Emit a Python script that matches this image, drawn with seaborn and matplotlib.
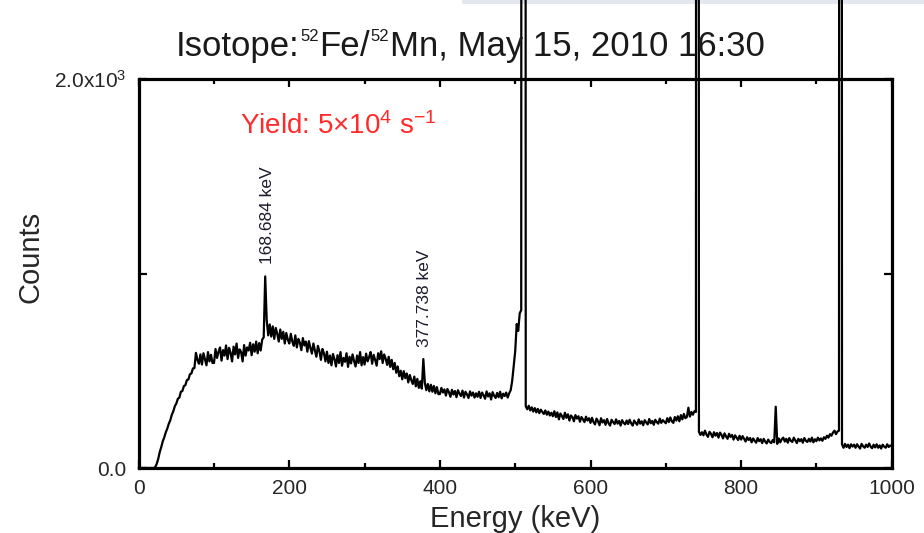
import numpy as np
import pandas as pd
import matplotlib
matplotlib.use("Agg")
import matplotlib.pyplot as plt
import seaborn as sns
from matplotlib.ticker import FixedLocator, MultipleLocator
from matplotlib.patches import Rectangle

# ---- spectrum: counts per 2 keV bin, 0 .. 1000 keV ----
bin_width_kev = 2
counts = [
    0, 0, 0, 0, 0, 0, 0, 0, 0, 0, 0, 5, 22, 48, 83, 108, 138, 158, 184, 203, 228, 246, 274, 292, 318,
    332, 356, 362, 392, 396, 421, 426, 452, 455, 482, 486, 512, 514, 592, 556, 536, 584, 532, 590, 560, 528, 596, 548, 582, 540,
    540, 612, 566, 598, 620, 552, 606, 578, 630, 560, 618, 592, 548, 624, 584, 640, 566, 610, 596, 548, 632, 578, 620, 604, 644,
    580, 636, 598, 650, 590, 642, 604, 660, 672, 985, 760, 682, 738, 676, 728, 664, 720, 690, 650, 712, 664, 700, 640, 694, 660,
    640, 690, 650, 628, 682, 620, 664, 645, 606, 668, 630, 650, 598, 652, 618, 588, 640, 604, 572, 628, 600, 556, 612, 590, 548,
    598, 540, 578, 528, 586, 560, 522, 580, 540, 596, 526, 566, 546, 590, 520, 572, 538, 584, 550, 522, 578, 540, 596, 528, 570,
    532, 588, 548, 570, 596, 536, 582, 556, 526, 590, 560, 600, 540, 584, 562, 530, 572, 520, 556, 508, 540, 490, 522, 472, 500,
    456, 498, 462, 486, 440, 478, 452, 432, 470, 420, 458, 412, 446, 408, 560, 438, 400, 432, 394, 428, 392, 422, 384, 416, 380,
    380, 412, 388, 404, 372, 406, 390, 366, 402, 378, 396, 364, 400, 382, 370, 398, 362, 392, 378, 360, 394, 372, 388, 362, 384,
    366, 392, 360, 388, 374, 356, 394, 368, 384, 352, 390, 372, 360, 386, 364, 392, 358, 382, 370, 388, 362, 384, 400, 448, 522,
    600, 740, 705, 795, 812, 30000, 30000, 318, 302, 320, 296, 312, 290, 308, 286, 304, 282, 300, 288, 278, 296, 274, 290, 270, 284,
    266, 292, 262, 286, 250, 280, 268, 252, 284, 258, 276, 244, 270, 262, 240, 272, 254, 266, 238, 262, 250, 236, 264, 244, 256,
    232, 258, 236, 224, 254, 240, 220, 256, 234, 246, 222, 252, 230, 218, 248, 236, 226, 250, 228, 242, 218, 246, 232, 224, 244,
    226, 248, 230, 218, 244, 232, 222, 250, 228, 240, 220, 246, 234, 224, 252, 230, 242, 222, 248, 236, 228, 254, 232, 246, 238,
    230, 256, 236, 260, 240, 232, 262, 244, 266, 240, 272, 250, 278, 256, 262, 310, 264, 288, 274, 292, 288, 30000, 186, 170, 184,
    168, 192, 172, 160, 186, 176, 158, 184, 166, 180, 156, 182, 170, 152, 178, 162, 150, 176, 160, 170, 146, 168, 156, 144, 166,
    146, 164, 150, 136, 158, 144, 154, 132, 152, 140, 130, 154, 138, 148, 128, 150, 136, 126, 146, 134, 128, 144, 132, 315, 124,
    152, 132, 148, 156, 136, 150, 130, 154, 140, 134, 156, 142, 128, 150, 138, 148, 130, 154, 140, 134, 150, 136, 156, 132, 148,
    138, 156, 142, 152, 140, 158, 150, 166, 156, 174, 166, 182, 192, 174, 188, 192, 30000, 122, 104, 124, 108, 120, 102, 122, 110,
    120, 104, 122, 110, 100, 124, 112, 104, 120, 108, 126, 110, 102, 120, 106, 122, 104, 116, 100, 120, 110, 104, 122, 108, 116,
    112,
]
energy_kev = np.arange(len(counts)) * bin_width_kev

# labelled lines
peak_energies = [168.684, 377.738]
peak_labels = ["168.684 keV", "377.738 keV"]

x_ticks = [0, 200, 400, 600, 800, 1000]
y_ticks = [0, 1000, 2000]
y_tick_labels = ["0.0", "", r"2.0x10$^{\mathrm{3}}$"]

title_parts = ["Isotope:", "52", "Fe", "/", "52", "Mn, May 15, 2010 16:30"]
yield_text = r"Yield: 5×10$^{\mathrm{4}}$ s$^{\mathrm{-1}}$"

spectrum = pd.DataFrame({"Energy (keV)": energy_kev, "Counts": counts})

# ---- style ----
sns.set_theme(style="white")
plt.rcParams["font.family"] = ["Liberation Sans", "DejaVu Sans"]
plt.rcParams["mathtext.fontset"] = "custom"
plt.rcParams["mathtext.rm"] = "Liberation Sans"
plt.rcParams["mathtext.it"] = "Liberation Sans:italic"
plt.rcParams["mathtext.bf"] = "Liberation Sans:bold"

W, H = 924, 533
fig = plt.figure(figsize=(W / 100, H / 100), dpi=100)
fig.patch.set_facecolor("white")

# axes box in pixels: left 139, right 892, top 79, bottom 468
ax = fig.add_axes([138.7 / W, (H - 468) / H, (891.7 - 138.7) / W, (468 - 79) / H])

sns.lineplot(data=spectrum, x="Energy (keV)", y="Counts", ax=ax, color="black",
             linewidth=1.6, estimator=None, sort=False, clip_on=False, zorder=3)

ax.set_xlim(0, 1000)
ax.set_ylim(0, 2000)
ax.xaxis.set_major_locator(FixedLocator(x_ticks))
ax.xaxis.set_minor_locator(MultipleLocator(100))
ax.yaxis.set_major_locator(FixedLocator(y_ticks))
ax.set_xticklabels([str(t) for t in x_ticks])
ax.set_yticklabels(y_tick_labels)

ax.tick_params(which="both", direction="in", top=True, right=True, bottom=True, left=True,
               color="black", width=1.6)
ax.tick_params(which="major", length=6, labelsize=15, pad=8)
ax.tick_params(which="minor", length=3.5)
ax.tick_params(axis="y", labelsize=15, pad=9)
for side in ax.spines.values():
    side.set_linewidth(2.3)
    side.set_color("black")
ax.grid(False)

ax.set_xlabel("Energy (keV)", fontsize=21, va="center")
ax.xaxis.set_label_coords(0.5, (468 - 519) / 389)
ax.set_ylabel("Counts", fontsize=21, va="center")
ax.yaxis.set_label_coords((30 - 138.7) / 753, (468 - 257) / 389)

# peak annotations, placed just above the peak channel
for e, lab in zip(peak_energies, peak_labels):
    idx = int(round(e / bin_width_kev))
    ax.annotate(lab, xy=(e, counts[idx]), xytext=(1, 9), textcoords="offset points",
                rotation=90, ha="center", va="bottom", fontsize=12.5, color="#1c1c2c")

# yield note
fig.text(240 / W, 1 - 134 / H, yield_text, color="#ff2b2b", fontsize=20,
         ha="left", va="baseline")

# title with raised mass numbers
title_x = [176, 300, 319, 360, 370, 390]
title_size = [25, 12, 25, 25, 12, 25]
title_base = [56, 41, 56, 56, 41, 56]
for txt, px, fs, base in zip(title_parts, title_x, title_size, title_base):
    fig.text(px / W, 1 - base / H, txt, fontsize=fs, ha="left", va="baseline",
             color="#1a1a1a")

# pale strip along the top edge
fig.patches.append(Rectangle((462 / W, 1 - 4 / H), (W - 462) / W, 4 / H,
                             transform=fig.transFigure, facecolor="#e2e7f0",
                             edgecolor="none", zorder=-5))

fig.savefig("out.png", dpi=100, facecolor="white")
